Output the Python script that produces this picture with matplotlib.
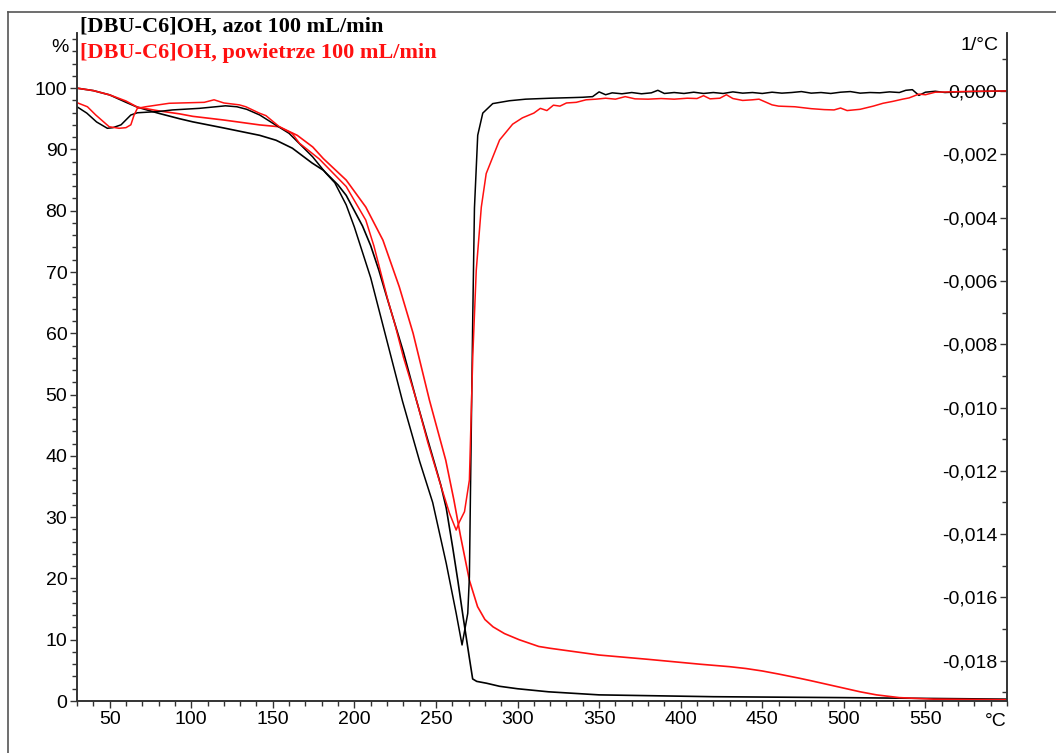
import numpy as np
import matplotlib.pyplot as plt
from matplotlib.lines import Line2D
from matplotlib.ticker import MultipleLocator, FixedLocator, FuncFormatter

# TG, nitrogen (black), % vs degC
temp_tg_n2 = [30, 40, 50, 60, 67, 80, 93, 101, 120, 142, 152, 162, 174, 181, 190, 195, 200, 205, 210, 215,
              220, 230, 238, 244, 250, 253, 256.3, 260.3, 263.5, 266.5, 270.5, 272.5, 275, 281, 289, 300, 319,
              350, 420, 500, 560, 600]
tg_n2 = [100, 99.6, 98.9, 97.7, 96.9, 95.9, 95.0, 94.5, 93.5, 92.3, 91.5, 90.2, 87.8, 86.6, 84.2, 82.5, 80.0,
         77.5, 74.3, 70.3, 65.8, 57.0, 49.1, 43.5, 38.0, 35.2, 31.5, 25.0, 19.5, 14.0, 7.0, 3.6, 3.2, 2.9,
         2.4, 2.0, 1.5, 1.0, 0.7, 0.55, 0.4, 0.3]

# TG, air (red)
temp_tg_air = [30, 40, 50, 60, 67, 80, 93, 101, 120, 142, 154, 165, 174.5, 181, 195, 207, 217.5, 227.5, 236,
               246, 256, 261, 265, 270.5, 275.5, 280, 285, 292, 301, 313, 320, 350, 380, 412, 430, 440, 450,
               460, 473, 480, 490, 500, 510, 520, 534, 555, 600]
tg_air = [100, 99.6, 98.9, 97.9, 96.9, 96.3, 95.8, 95.4, 94.8, 94.0, 93.7, 92.3, 90.4, 88.5, 85.0, 80.6, 75.2,
          67.6, 60.0, 49.1, 39.3, 32.8, 27.0, 19.7, 15.4, 13.3, 12.1, 11.0, 10.0, 8.9, 8.6, 7.5, 6.8, 6.0,
          5.6, 5.3, 4.9, 4.4, 3.7, 3.3, 2.7, 2.1, 1.5, 1.0, 0.55, 0.3, 0.2]

# DTG, nitrogen (black), 1/degC
temp_dtg_n2 = [30, 36, 42, 48.6, 52, 57, 63, 67, 80, 88.5, 105, 121, 128, 134, 142, 150, 160, 174.4, 182.6,
               188, 195, 200, 205, 210, 215, 222, 229.5, 240, 248, 256.3, 262.4, 266, 269.5, 270.5, 271.2,
               272.6, 273.6, 275.6, 278.7, 284.8, 295, 305, 320, 334, 340, 346, 350, 354, 358, 364, 370,
               376, 382, 386, 390, 396, 402, 408, 414, 420, 426, 432, 438, 444, 450, 456, 462, 468, 474,
               480, 486, 492, 498, 504, 510, 516, 522, 528, 534, 538, 542, 546, 550, 556, 562, 570, 580,
               590, 600]
dtg_n2 = [-0.0005, -0.0007, -0.00098, -0.00118, -0.00116, -0.00107, -0.00076, -0.00069, -0.00065, -0.0006,
          -0.00055, -0.00047, -0.0005, -0.00058, -0.00076, -0.00102, -0.00134, -0.00208, -0.0026, -0.0029,
          -0.0036, -0.0043, -0.0051, -0.0059, -0.0069, -0.0083, -0.0098, -0.0117, -0.0130, -0.01492,
          -0.0165, -0.0175, -0.0165, -0.01535, -0.0125, -0.007, -0.0037, -0.0014, -0.0007, -0.00040,
          -0.00031, -0.00026, -0.00023, -0.00021, -0.00020, -0.00018, -0.00003, -0.00012, -0.00006,
          -0.00009, -0.00005, -0.00009, -0.00006, 0.00002, -0.00008, -0.00005, -0.00008, -0.00004,
          -0.00008, -0.00005, -0.00008, -0.00003, -0.00007, -0.00005, -0.00008, -0.00004, -0.00007,
          -0.00005, -0.00002, -0.00007, -0.00005, -0.00008, -0.00004, -0.00002, -0.00007, -0.00005,
          -0.00006, -0.00003, -0.00005, 0.00002, 0.00004, -0.00014, -0.00004, -0.00001, -0.00005, -0.00003,
          -0.00002, -0.00001, 0.0]

# DTG, air (red)
temp_dtg_air = [30, 36.4, 41.5, 49.7, 55.8, 60, 63, 65, 67, 72, 86.5, 100.8, 108, 114, 120, 129.5, 133.5,
                141.7, 145.8, 154, 162, 166.3, 178.5, 195, 207, 212, 216, 220.5, 225, 230, 238, 245, 252,
                258.3, 262.4, 264.4, 267.5, 270.5, 272.6, 274.7, 277.8, 280.8, 285.9, 289, 297, 303, 310,
                314, 318, 322, 326, 330, 336, 342, 348, 354, 360, 366, 372, 380, 388, 396, 404, 410, 414,
                418, 424, 428, 432, 438, 444, 448, 452, 456, 460, 470, 480, 488, 494, 498, 502, 510, 518,
                524, 530, 536, 540, 546, 550, 556, 565, 580, 600]
dtg_air = [-0.00037, -0.0005, -0.00076, -0.00113, -0.00118, -0.00116, -0.00107, -0.00076, -0.00055, -0.0005,
           -0.00039, -0.00037, -0.00036, -0.00028, -0.00038, -0.00044, -0.0005, -0.0007, -0.00078, -0.00113,
           -0.00135, -0.00165, -0.00215, -0.00302, -0.00408, -0.0049, -0.0057, -0.0066, -0.0074, -0.0084,
           -0.00976, -0.0111, -0.0123, -0.01334, -0.01387, -0.01361, -0.01329, -0.01229, -0.00833,
           -0.00567, -0.00367, -0.00261, -0.00195, -0.00155, -0.00105, -0.00085, -0.00070, -0.00055,
           -0.00062, -0.00045, -0.00048, -0.00038, -0.00036, -0.00028, -0.00026, -0.00023, -0.00026,
           -0.00018, -0.00025, -0.00026, -0.00024, -0.00026, -0.00023, -0.00024, -0.00015, -0.00025,
           -0.00023, -0.00012, -0.00024, -0.00030, -0.00028, -0.00026, -0.00035, -0.00044, -0.00048,
           -0.00050, -0.00056, -0.00059, -0.00060, -0.00054, -0.00062, -0.00058, -0.00048, -0.00039,
           -0.00033, -0.00026, -0.00022, -0.00010, -0.00012, -0.00004, -0.00003, -0.00001, 0.0]

label_n2 = '[DBU-C6]OH, azot 100 mL/min'
label_air = '[DBU-C6]OH, powietrze 100 mL/min'

plt.rcParams['font.family'] = ['Liberation Sans', 'DejaVu Sans']
W, H = 1056, 753
fig = plt.figure(figsize=(W / 100, H / 100), dpi=100)
ax = fig.add_axes([77 / W, 1 - 701 / H, (1007 - 77) / W, (701 - 33) / H])
ax2 = ax.twinx()

RED = '#ff1010'
axcol = '#333333'

ax.plot(temp_tg_n2, tg_n2, color='black', lw=1.2)
ax.plot(temp_tg_air, tg_air, color=RED, lw=1.2)
ax2.plot(temp_dtg_n2, dtg_n2, color='black', lw=1.1)
ax2.plot(temp_dtg_air, dtg_air, color=RED, lw=1.1)

ax.set_xlim(30, 600)
ax.set_ylim(0, 109)
ax2.set_ylim(-0.01927, 0.00183)

for a in (ax, ax2):
    a.spines['top'].set_visible(False)
    for s in ('left', 'right', 'bottom'):
        a.spines[s].set_color(axcol)
        a.spines[s].set_linewidth(1.2)

ax.xaxis.set_major_locator(FixedLocator(np.arange(50, 551, 50)))
ax.xaxis.set_minor_locator(MultipleLocator(10))
ax.yaxis.set_major_locator(MultipleLocator(10))
ax.yaxis.set_minor_locator(MultipleLocator(2))
ax.set_yticks(np.arange(0, 101, 10))
ax.tick_params(which='major', direction='out', length=5, width=1, color=axcol, labelsize=14, pad=2)
ax.tick_params(which='minor', direction='out', length=3.5, width=1, color=axcol)

ax2.set_yticks(np.round(np.arange(-0.018, 0.0001, 0.002), 3))
ax2.yaxis.set_minor_locator(MultipleLocator(0.001))


def comma_fmt(v, pos):
    if abs(v) < 1e-9:
        v = 0.0
    return f'{v:.3f}'.replace('.', ',')


ax2.yaxis.set_major_formatter(FuncFormatter(comma_fmt))
ax2.tick_params(which='major', direction='in', length=5, width=1, color=axcol, labelsize=14, pad=-7)
ax2.tick_params(which='minor', direction='in', length=3.5, width=1, color=axcol)
for t in ax2.get_yticklabels():
    t.set_horizontalalignment('right')

# unit labels
fig.text(60 / W, 1 - 47 / H, '%', fontsize=14, ha='center', va='center')
fig.text(998 / W, 1 - 45 / H, '1/°C', fontsize=14, ha='right', va='center')
fig.text(1007 / W, 1 - 722 / H, '°C', fontsize=14, ha='right', va='center')

# legend text
fig.text(80 / W, 1 - 27 / H, label_n2, fontsize=16, fontweight='bold', color='black',
         family='Liberation Serif', ha='left', va='center')
fig.text(80 / W, 1 - 53 / H, label_air, fontsize=16, fontweight='bold', color=RED,
         family='Liberation Serif', ha='left', va='center')

# outer frame (top and left edges)
fig.add_artist(Line2D([8 / W, 1], [1 - 12 / H, 1 - 12 / H], transform=fig.transFigure, color='#555555', lw=1.2))
fig.add_artist(Line2D([8 / W, 8 / W], [0, 1 - 12 / H], transform=fig.transFigure, color='#555555', lw=1.2))

fig.savefig('out.png', dpi=100)
